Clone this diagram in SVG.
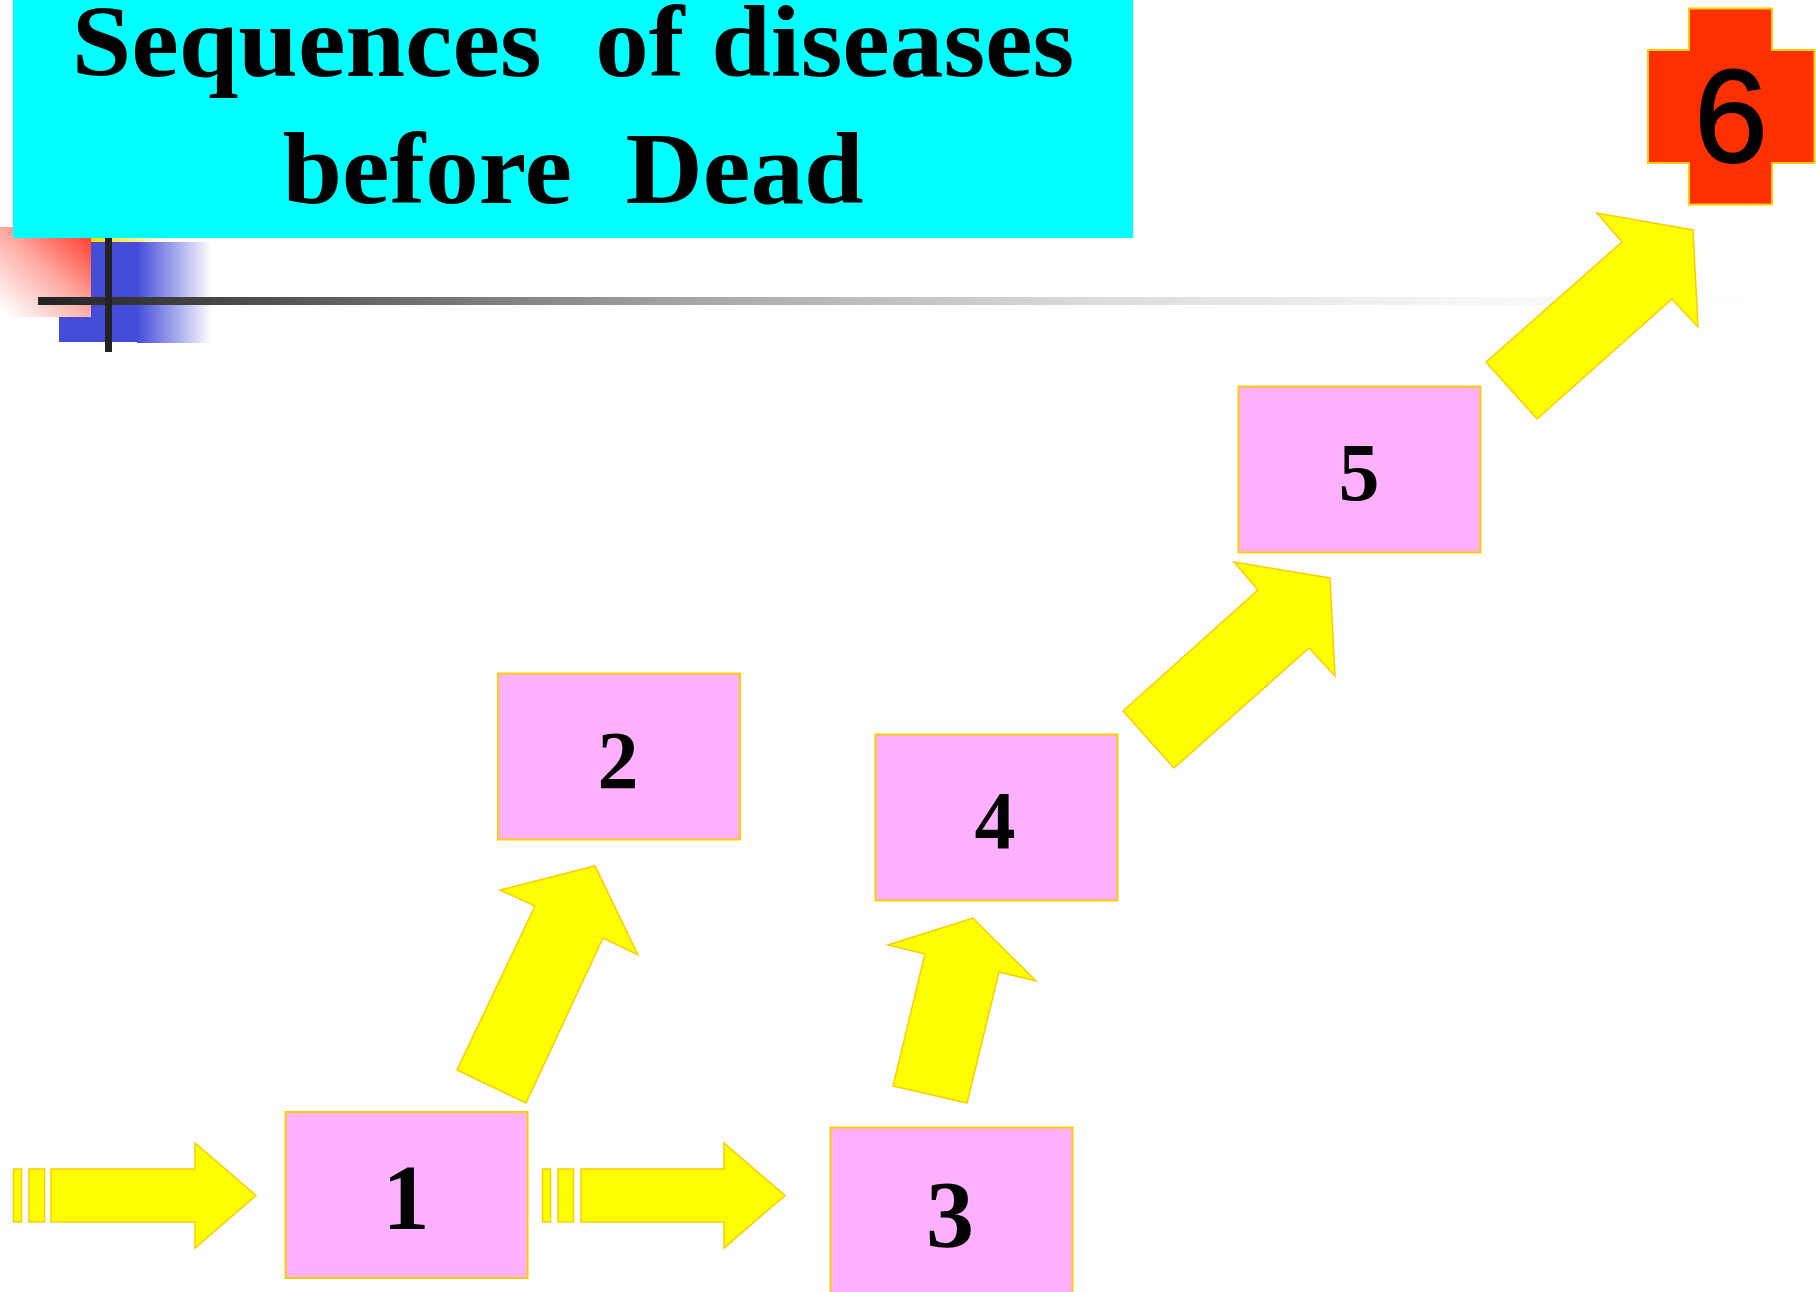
<svg xmlns="http://www.w3.org/2000/svg" width="1816" height="1292" viewBox="0 0 1816 1292">
<style>
.box{fill:#ffb0ff;stroke:#ffcc00;stroke-width:2}
.arr{fill:#ffff00;stroke:#ffcc00;stroke-width:1.5;stroke-linejoin:miter}
.num{font-family:"Liberation Serif",serif;font-weight:bold;font-size:82px;text-anchor:middle;fill:#000}
.ttl{font-family:"Liberation Serif",serif;font-weight:bold;font-size:102px;text-anchor:middle;fill:#000;white-space:pre}
</style>
<defs>
<linearGradient id="gRed" x1="1" y1="0" x2="0.1" y2="1"><stop offset="0" stop-color="#ff3020"/><stop offset="0.5" stop-color="#ffa8a0"/><stop offset="1" stop-color="#fff"/></linearGradient>
<linearGradient id="gBlue" x1="0" y1="0" x2="1" y2="0"><stop offset="0" stop-color="#444cd8"/><stop offset="1" stop-color="#fff"/></linearGradient>
<linearGradient id="gYel" x1="0" y1="0" x2="1" y2="0"><stop offset="0" stop-color="#ffd700"/><stop offset="1" stop-color="#fff"/></linearGradient>
<linearGradient id="gLine" x1="0" y1="0" x2="1" y2="0"><stop offset="0" stop-color="#222"/><stop offset="0.129" stop-color="#505050"/><stop offset="0.384" stop-color="#a8a8a8"/><stop offset="0.617" stop-color="#dcdcdc"/><stop offset="0.82" stop-color="#f5f5f5"/><stop offset="1" stop-color="#fff"/></linearGradient>
</defs>
<rect width="1816" height="1292" fill="#fff"/>
<g id="decor">
<rect x="91" y="236" width="80" height="8" fill="url(#gYel)"/>
<rect x="0" y="227" width="91" height="90" fill="url(#gRed)"/>
<rect x="59" y="317" width="78" height="25" fill="#444cd8"/>
<rect x="91" y="242" width="46" height="100" fill="#444cd8"/>
<rect x="137" y="242" width="75" height="101" fill="url(#gBlue)"/>
<rect x="38" y="297" width="1722" height="8" fill="url(#gLine)"/>
<rect x="105" y="238" width="7" height="114" fill="#222"/>
</g>
<g id="title">
<rect x="13" y="0" width="1120" height="238" fill="#00ffff"/>
<text class="ttl" transform="translate(573 76) scale(1.05 1)">Sequences  of diseases</text>
<text class="ttl" transform="translate(573 203) scale(1.05 1)">before  Dead</text>
</g>
<g id="connectors">
<g id="arrow-in">
<rect class="arr" x="13.500" y="1169" width="8" height="53"/>
<rect class="arr" x="29" y="1169" width="15.500" height="53"/>
<polygon class="arr" points="51,1169 195,1169 195,1143 256,1195.500 195,1248 195,1222 51,1222"/>
</g>
<g id="arrow-1-3">
<rect class="arr" x="542.500" y="1169" width="8" height="53"/>
<rect class="arr" x="558" y="1169" width="15.500" height="53"/>
<polygon class="arr" points="581,1169 724,1169 724,1143 785,1195.500 724,1248 724,1222 581,1222"/>
</g>
<polygon id="arrow-1-2" class="arr" points="457,1070 526,1103 603,938 638,955 595,866 500,890 535,906"/>
<polygon id="arrow-3-4" class="arr" points="893,1086 967,1103 999,972 1036,981 973,918 888,945 925,954"/>
<polygon id="arrow-4-5" class="arr" points="1123,711 1174,768 1309,648 1335,676 1330,578 1234,562 1258,590"/>
<polygon id="arrow-5-6" class="arr" points="1486,362 1537,419 1672,299 1698,327 1693,230 1597,213 1622,242"/>
</g>
<g id="n1"><rect class="box" x="285.500" y="1112" width="242" height="166"/><text class="num" x="406" y="1229" style="font-size:94px">1</text></g>
<g id="n2"><rect class="box" x="498" y="673.500" width="242" height="166"/><text class="num" x="618" y="788">2</text></g>
<g id="n3"><rect class="box" x="830.500" y="1127.500" width="242" height="167"/><text class="num" x="950" y="1247" style="font-size:96px">3</text></g>
<g id="n4"><rect class="box" x="875.500" y="734.500" width="242" height="166"/><text class="num" x="995" y="848">4</text></g>
<g id="n5"><rect class="box" x="1238.500" y="386.500" width="242" height="166"/><text class="num" x="1359" y="500">5</text></g>
<g id="n6"><polygon points="1689,8.500 1772,8.500 1772,50 1814.500,50 1814.500,163 1772,163 1772,204.500 1689,204.500 1689,163 1648,163 1648,50 1689,50" fill="#ff3000" stroke="#ffcc00" stroke-width="2"/><text x="1731" y="162" font-family="Liberation Sans,sans-serif" font-size="132" text-anchor="middle" fill="#000" stroke="#000" stroke-width="2">6</text></g>
</svg>
